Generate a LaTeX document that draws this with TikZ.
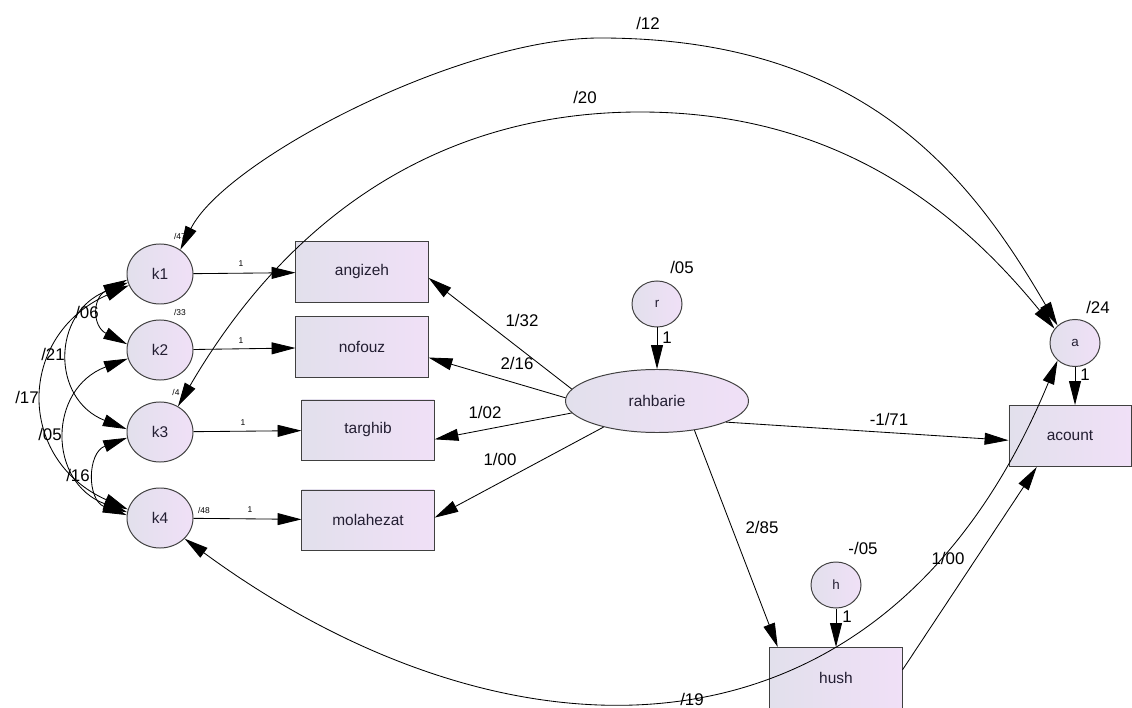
\documentclass[tikz,border=0pt]{standalone}
\usepackage{fontspec}
\setmainfont{Liberation Sans}
\definecolor{semL}{RGB}{226,224,236}
\definecolor{semR}{RGB}{240,224,247}
\definecolor{semline}{RGB}{64,64,64}
\definecolor{semtext}{RGB}{35,30,50}
\usetikzlibrary{arrows.meta,shapes.geometric}

\begin{document}
\begin{tikzpicture}[x=0.025cm, y=-0.025cm,
  latent/.style={ellipse, draw=semline, line width=0.7pt, left color=semL, right color=semR, inner sep=0pt, minimum width=1.65cm, minimum height=1.5cm, text=semtext, font=\fontsize{11}{13}\selectfont},
  errvar/.style={latent, minimum width=1.25cm, minimum height=1.15cm, font=\fontsize{9.5}{11}\selectfont},
  observed/.style={draw=semline, line width=0.7pt, left color=semL, right color=semR, minimum width=3.3cm, minimum height=1.5cm, text=semtext, font=\fontsize{11}{13}\selectfont},
  regr/.style={line width=0.6pt, -{Triangle[length=17pt,width=8.5pt]}},
  cov/.style={line width=0.6pt, {Triangle[length=17pt,width=8.5pt]}-{Triangle[length=17pt,width=8.5pt]}},
  est/.style={font=\fontsize{12}{14}\selectfont},
  tinyest/.style={font=\fontsize{6}{7}\selectfont}]

  \fill[white] (0,0) rectangle (1132,708);
  \useasboundingbox (0,0) rectangle (1132,708);

  %% Latent factors
  \node[latent] (k1) at (160,274) {k1};
  \node[latent] (k2) at (160,350) {k2};
  \node[latent] (k3) at (160,432) {k3};
  \node[latent] (k4) at (160,518) {k4};

  %% Indicators
  \node[observed] (angizeh)   at (362,272) {angizeh};
  \node[observed] (nofouz)    at (362,347) {nofouz};
  \node[observed] (targhib)   at (368,430) {targhib};
  \node[observed] (molahezat) at (368,520) {molahezat};

  %% Structural part
  \node[latent, minimum width=4.575cm, minimum height=1.575cm] (rahbarie) at (657,401) {rahbarie};
  \node[errvar] (r) at (657,304) {r};
  \node[errvar, minimum height=1.175cm] (a) at (1075,343) {a};
  \node[errvar] (h) at (836,585) {h};
  \node[observed, minimum width=3.05cm, minimum height=1.525cm] (acount) at (1070,436) {acount};
  \node[observed, minimum height=1.525cm] (hush) at (836,678) {hush};

  %% Loadings
  \draw[regr] (k1) -- (angizeh);
  \draw[regr] (k2) -- (nofouz);
  \draw[regr] (k3) -- (targhib);
  \draw[regr] (k4) -- (molahezat);
  \node[tinyest] (w1) at (241,264) {1};
  \node[tinyest] (w2) at (241,341) {1};
  \node[tinyest] (w3) at (243,423) {1};
  \node[tinyest] (w4) at (250,510) {1};

  %% Paths from rahbarie
  \draw[regr] (rahbarie.172) -- (angizeh.-5);
  \draw[regr] (rahbarie.178) -- (nofouz.-9);
  \draw[regr] (rahbarie.188) -- (targhib.-8);
  \draw[regr] (rahbarie.206) -- (molahezat.2);
  \draw[regr] (rahbarie.-17) -- (acount.184);
  \draw[regr] (rahbarie.-38) -- (hush.152);
  \draw[regr] (hush.7) -- (acount.223);
  \node[est] (b1) at (522,320) {1/32};
  \node[est] (b2) at (517,363) {2/16};
  \node[est] (b3) at (485,412) {1/02};
  \node[est] (b4) at (500,459) {1/00};
  \node[est] (b5) at (889,419) {-1/71};
  \node[est] (b6) at (762,527) {2/85};
  \node[est] (b7) at (948,558) {1/00};

  %% Residuals
  \draw[regr] (r.south) -- (rahbarie.north);
  \draw[regr] (a.south) -- (a.south |- acount.north);
  \draw[regr] (h.south) -- (hush.north);
  \node[est] (vr) at (682,267) {/05};
  \node[est] (er) at (667,338) {1};
  \node[est] (va) at (1098,307) {/24};
  \node[est] (ea) at (1085,375) {1};
  \node[est] (vh) at (863,548) {-/05};
  \node[est] (eh) at (847,617) {1};

  %% Variances of k
  \node[tinyest] (v1) at (180,236) {/47};
  \node[tinyest] (v2) at (180,312) {/33};
  \node[tinyest] (v3) at (176,392) {/4};
  \node[tinyest] (v4) at (204,510) {/48};

  %% Covariances among k
  \draw[cov] (k1.190) .. controls +(-35,18) and +(-35,-18) .. (k2.170);
  \draw[cov] (k1.195) .. controls +(-76,30) and +(-76,-30) .. (k3.175);
  \draw[cov] (k1.200) .. controls +(-112,50) and +(-112,-50) .. (k4.165);
  \draw[cov] (k2.195) .. controls +(-80,30) and +(-80,-30) .. (k4.170);
  \draw[cov] (k3.190) .. controls +(-40,15) and +(-40,-15) .. (k4.175);
  \node[est] (c12) at (87,312) {/06};
  \node[est] (c13) at (53,354) {/21};
  \node[est] (c14) at (27,397) {/17};
  \node[est] (c24) at (50,434) {/05};
  \node[est] (c34) at (78,475) {/16};

  %% Covariances with a
  \draw[cov] (k1.50) .. controls (225,160) and (460,38) .. (600,38)
    .. controls (860,38) and (967,170) .. (a.135);
  \draw[cov] (k3.55) .. controls (289,216) and (440,112) .. (640,112)
    .. controls (840,112) and (960,213) .. (a.145);
  \draw[cov] (k4.-40) .. controls (500,770) and (880,790) .. (a.225);
  \node[est] (c1a) at (648,23) {/12};
  \node[est] (c3a) at (585,97) {/20};
  \node[est] (c4a) at (692,699) {/19};
\end{tikzpicture}
\end{document}
